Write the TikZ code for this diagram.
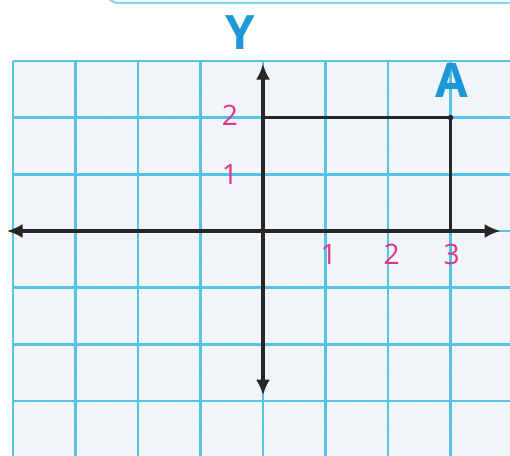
\documentclass[tikz,border=0pt]{standalone}
\usepackage{fontspec}
\setsansfont{Open Sans}
\usetikzlibrary{arrows.meta}
\definecolor{gridblue}{HTML}{55C2EA}
\definecolor{labelblue}{HTML}{1C98D6}
\definecolor{nummag}{HTML}{E0358C}
\definecolor{paper}{HTML}{F1F5F8}

\begin{document}
\begin{tikzpicture}[x=1.25cm,y=1.134cm,>={Latex[length=9pt,width=8pt]},font=\sffamily]
    \useasboundingbox (-4.208,-3.951) rectangle (3.952,4.074);
    \clip (-4.208,-3.951) rectangle (3.952,4.074);
    \fill[white] (-4.208,-3.951) rectangle (3.952,4.074);
    \draw[gridblue!70,line width=1.2pt,rounded corners=8pt] (-2.53,4.02) rectangle (4.5,4.6);
    \fill[paper] (-4,-4) rectangle (4,3);
    \draw[step=0.5,gridblue!12,very thin] (-4,-4) grid (4,3);
    \draw[step=1,gridblue,line width=1.4pt] (-4,-4) grid (4,3);
    \coordinate (O) at (0,0);
    \coordinate (xl) at (-4.1,0);
    \coordinate (xr) at (3.8,0);
    \coordinate (yt) at (0,2.95);
    \coordinate (yb) at (0,-2.9);
    \coordinate (A) at (3,2);
    \coordinate (Ay) at (0,2);
    \coordinate (Ax) at (3,0);
    \draw[black!85,line width=1.6pt] (Ay) -- (A) -- (Ax);
    \fill[black!85] (A) circle (1.6pt);
    \draw[black!85,line width=2.2pt,<->] (xl) -- (xr);
    \draw[black!85,line width=2.2pt,<->] (yb) -- (yt);
    \node[labelblue,font=\sffamily\bfseries\fontsize{27}{27}\selectfont] (ylab) at (-0.37,3.5) {Y};
    \node[labelblue,font=\sffamily\bfseries\fontsize{27}{27}\selectfont] (alab) at (3.02,2.66) {A};
    \node[nummag,font=\sffamily\fontsize{16}{16}\selectfont] (y2) at (-0.53,2.04) {2};
    \node[nummag,font=\sffamily\fontsize{16}{16}\selectfont] (y1) at (-0.53,1.0) {1};
    \node[nummag,font=\sffamily\fontsize{16}{16}\selectfont] (x1) at (1.05,-0.42) {1};
    \node[nummag,font=\sffamily\fontsize{16}{16}\selectfont] (x2) at (2.06,-0.42) {2};
    \node[nummag,font=\sffamily\fontsize{16}{16}\selectfont] (x3) at (3.02,-0.42) {3};
\end{tikzpicture}
\end{document}
